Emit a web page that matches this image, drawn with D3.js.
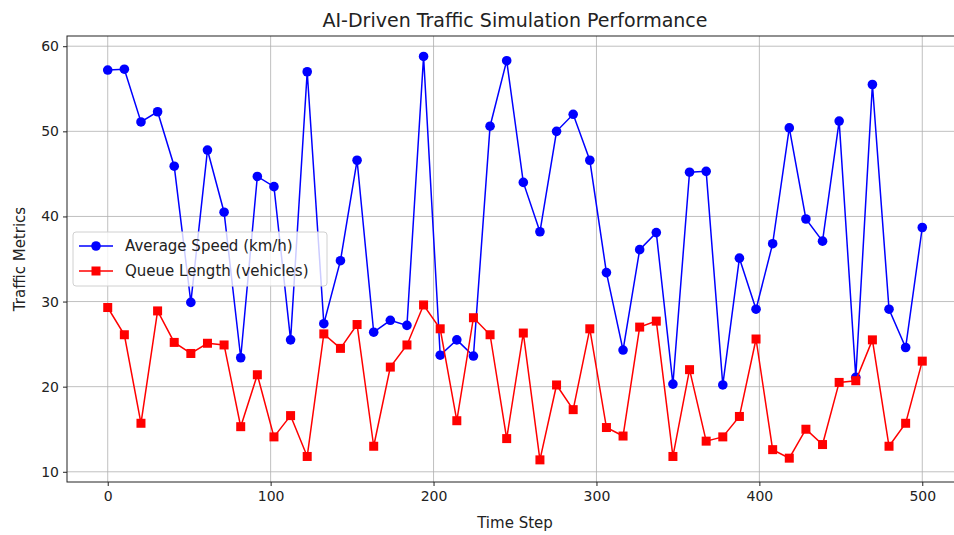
<!DOCTYPE html>
<html lang="en">
  <head>
    <meta charset="utf-8">
    <title>AI-Driven Traffic Simulation Performance</title>
    <script src="https://d3js.org/d3.v7.min.js"></script>
    <style>
      html, body { margin: 0; padding: 0; background: #fff; overflow: hidden; }
      svg { display: block; }
      text { font-family: "DejaVu Sans", sans-serif; fill: #222; }
    </style>
  </head>
  <body>
    <div id="chart"></div>
    <script>

// time steps: 50 points evenly spaced 0..500
var timeSteps = d3.range(50).map(i => i * 500 / 49);

var avgSpeed = [57.2, 57.3, 51.1, 52.3, 45.9, 29.9, 47.8, 40.5, 23.4, 44.7,
                43.5, 25.5, 57.0, 27.4, 34.8, 46.6, 26.4, 27.8, 27.2, 58.8,
                23.7, 25.5, 23.6, 50.6, 58.3, 44.0, 38.2, 50.0, 52.0, 46.6,
                33.4, 24.3, 36.1, 38.1, 20.3, 45.2, 45.3, 20.2, 35.1, 29.1,
                36.8, 50.4, 39.7, 37.1, 51.2, 21.1, 55.5, 29.1, 24.6, 38.7];

var queueLength = [29.3, 26.1, 15.7, 28.9, 25.2, 23.9, 25.1, 24.9, 15.3, 21.4,
                   14.1, 16.6, 11.8, 26.2, 24.5, 27.3, 13.0, 22.3, 24.9, 29.6,
                   26.8, 16.0, 28.1, 26.1, 13.9, 26.3, 11.4, 20.2, 17.3, 26.8,
                   15.2, 14.2, 27.0, 27.7, 11.8, 22.0, 13.6, 14.1, 16.5, 25.6,
                   12.6, 11.6, 15.0, 13.2, 20.5, 20.7, 25.5, 13.0, 15.7, 23.0];

var xTicks = [0, 100, 200, 300, 400, 500];
var yTicks = [10, 20, 30, 40, 50, 60];

var series = [
  {name: "Average Speed (km/h)", values: avgSpeed, color: "#0000ff", marker: "circle"},
  {name: "Queue Length (vehicles)", values: queueLength, color: "#ff0000", marker: "square"}
];

var w = 954, h = 535;
// plot area runs past the right edge of the window, as in the reference
var plotRight = 963;
var margin = {top: 36, bottom: 53, left: 67};
var innerWidth = plotRight - margin.left;
var innerHeight = h - margin.top - margin.bottom;

var xScale = d3.scaleLinear().domain([-25, 525]).range([0, innerWidth]);
var yScale = d3.scaleLinear().domain([8.8, 61.2]).range([innerHeight, 0]);

var svg = d3.select("#chart").append("svg")
    .attr("width", w)
    .attr("height", h);

var g = svg.append("g")
    .attr("transform", `translate(${margin.left}, ${margin.top})`);

// grid
var grid = g.append("g");
grid.selectAll(null).data(xTicks).enter().append("line")
    .attr("x1", d => xScale(d)).attr("x2", d => xScale(d))
    .attr("y1", 0).attr("y2", innerHeight)
    .attr("stroke", "#b0b0b0").attr("stroke-width", 0.8);
grid.selectAll(null).data(yTicks).enter().append("line")
    .attr("x1", 0).attr("x2", innerWidth)
    .attr("y1", d => yScale(d)).attr("y2", d => yScale(d))
    .attr("stroke", "#b0b0b0").attr("stroke-width", 0.8);

// axes
var xAxis = d3.axisBottom(xScale).tickValues(xTicks).tickSize(4).tickPadding(5);
var yAxis = d3.axisLeft(yScale).tickValues(yTicks).tickSize(4).tickPadding(4);

var gx = g.append("g")
    .attr("transform", `translate(0, ${innerHeight})`)
    .call(xAxis);
var gy = g.append("g").call(yAxis);
[gx, gy].forEach(a => {
  a.select(".domain").remove();
  a.selectAll("text").style("font-size", "14px").attr("fill", "#222");
  a.selectAll("line").attr("stroke", "#222");
});

// frame
g.append("rect")
    .attr("width", innerWidth).attr("height", innerHeight)
    .attr("fill", "none").attr("stroke", "#222").attr("stroke-width", 1);

// lines and markers
var line = d3.line()
    .x((d, i) => xScale(timeSteps[i]))
    .y(d => yScale(d));

series.forEach(s => {
  g.append("path")
    .datum(s.values)
    .attr("fill", "none")
    .attr("stroke", s.color)
    .attr("stroke-width", 1.5)
    .attr("d", line);

  if (s.marker === "circle") {
    g.selectAll(null).data(s.values).enter().append("circle")
      .attr("cx", (d, i) => xScale(timeSteps[i]))
      .attr("cy", d => yScale(d))
      .attr("r", 4.8)
      .attr("fill", s.color);
  } else {
    g.selectAll(null).data(s.values).enter().append("rect")
      .attr("x", (d, i) => xScale(timeSteps[i]) - 4.5)
      .attr("y", d => yScale(d) - 4.5)
      .attr("width", 9).attr("height", 9)
      .attr("fill", s.color);
  }
});

// title and labels
svg.append("text")
    .attr("x", margin.left + innerWidth / 2)
    .attr("y", 27)
    .attr("text-anchor", "middle")
    .style("font-size", "19px")
    .text("AI-Driven Traffic Simulation Performance");

svg.append("text")
    .attr("x", margin.left + xScale(250))
    .attr("y", 528)
    .attr("text-anchor", "middle")
    .style("font-size", "15px")
    .text("Time Step");

svg.append("text")
    .attr("transform", `translate(25, ${margin.top + innerHeight / 2}) rotate(-90)`)
    .attr("text-anchor", "middle")
    .style("font-size", "15px")
    .text("Traffic Metrics");

// legend
var legend = svg.append("g").attr("transform", "translate(73, 232)");
legend.append("rect")
    .attr("width", 254).attr("height", 54).attr("rx", 3)
    .attr("fill", "#fff").attr("fill-opacity", 0.8)
    .attr("stroke", "#d0d0d0");

series.forEach((s, i) => {
  var row = legend.append("g").attr("transform", `translate(0, ${14 + i * 25})`);
  row.append("line")
    .attr("x1", 6).attr("x2", 40)
    .attr("stroke", s.color).attr("stroke-width", 1.5);
  if (s.marker === "circle") {
    row.append("circle").attr("cx", 23).attr("r", 4.8).attr("fill", s.color);
  } else {
    row.append("rect").attr("x", 18.5).attr("y", -4.5).attr("width", 9).attr("height", 9).attr("fill", s.color);
  }
  row.append("text")
    .attr("x", 52).attr("dy", "0.35em")
    .style("font-size", "15px")
    .text(s.name);
});

    </script>
  </body>
</html>
